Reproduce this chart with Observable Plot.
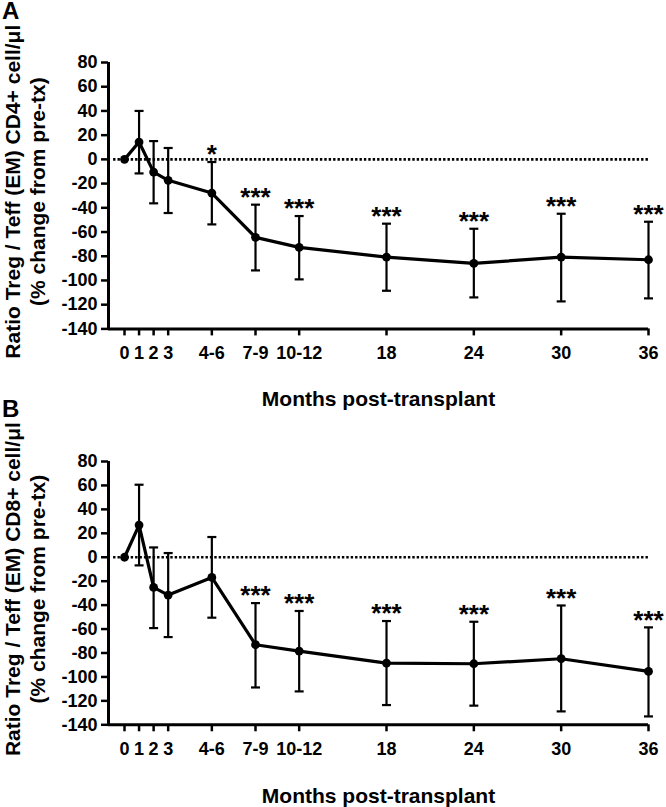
<!DOCTYPE html>
<html>
<head>
<meta charset="utf-8">
<script src="https://cdn.jsdelivr.net/npm/d3@7"></script>
<script src="https://cdn.jsdelivr.net/npm/@observablehq/plot@0.6"></script>
<style>
  body { margin: 0; background: #fff; }
  #wrap { position: relative; width: 666px; height: 807px; overflow: hidden; font-family: "Liberation Sans", Arial, sans-serif; }
  .panel { position: absolute; left: 0; }
  .letter { position: absolute; left: 2px; font-weight: bold; font-size: 24px; line-height: 1; }
</style>
</head>
<body>
<div id="wrap">
  <div class="panel" id="chartA" style="top:0"></div>
  <div class="panel" id="chartB" style="top:412px"></div>
  <div class="letter" style="top:-1px">A</div>
  <div class="letter" style="top:397px">B</div>
</div>
<script>
// months post-transplant (4-6 -> 6, 7-9 -> 9, 10-12 -> 12 on the axis)
const monthPos = [0, 1, 2, 3, 6, 9, 12, 18, 24, 30, 36];
const monthLabels = ["0", "1", "2", "3", "4-6", "7-9", "10-12", "18", "24", "30", "36"];
const yTicks = [80, 60, 40, 20, 0, -20, -40, -60, -80, -100, -120, -140];

// A: CD4+ ratio, % change from pre-tx (mean, upper and lower error)
const cd4Mean = [0, 14.3, -10.5, -17.3, -27.8, -64.4, -72.7, -80.7, -85.9, -80.7, -82.9];
const cd4Upper = [null, 40, 15.1, 9.4, -2.2, -37.4, -46.8, -53.1, -57.3, -44.9, -51.5];
const cd4Lower = [null, -11.6, -36.3, -44.3, -53.7, -91.7, -99.1, -108.5, -114, -117.3, -114.8];
const cd4Stars = ["", "", "", "", "*", "***", "***", "***", "***", "***", "***"];

// B: CD8+ ratio
const cd8Mean = [0, 26.9, -25.2, -31.6, -16.9, -73.1, -78.4, -88.4, -89, -84.8, -95.4];
const cd8Upper = [null, 60.6, 8.2, 3.5, 16.9, -38.3, -44.9, -53.3, -53.9, -40.3, -58.6];
const cd8Lower = [null, -6.8, -59.2, -66.7, -50.5, -108.8, -112.1, -123.5, -124, -128.8, -133];
const cd8Stars = ["", "", "", "", "", "***", "***", "***", "***", "***", "***"];

// flat cap for the error bars
const capSymbol = {
  draw(context, size) {
    const w = Math.sqrt(size / Math.PI);
    context.moveTo(-w, 0);
    context.lineTo(w, 0);
  }
};

function panel(mean, upper, lower, stars, cell, layout) {
  const rows = monthPos.map((m, i) => ({m, v: mean[i], hi: upper[i], lo: lower[i], star: stars[i]}));
  const bars = rows.filter(d => d.hi != null);
  return Plot.plot({
    width: 666,
    height: layout.height,
    marginLeft: 108,
    marginRight: 18,
    marginTop: layout.top,
    marginBottom: layout.bottom,
    style: {fontFamily: "'Liberation Sans', Arial, sans-serif", fontWeight: "bold", fontSize: "18px", color: "black", overflow: "visible"},
    x: {domain: [-1.1, 36]},
    y: {domain: [-140, 80]},
    marks: [
      Plot.ruleY([0], {x1: -0.75, x2: 36, strokeWidth: 2.6, strokeDasharray: "2.4,2"}),
      Plot.ruleX(bars, {x: "m", y1: "lo", y2: "hi", strokeWidth: 2.2}),
      Plot.dot(bars, {x: "m", y: "hi", symbol: capSymbol, r: 4.5, stroke: "black", strokeWidth: 2.2, fill: "none"}),
      Plot.dot(bars, {x: "m", y: "lo", symbol: capSymbol, r: 4.5, stroke: "black", strokeWidth: 2.2, fill: "none"}),
      Plot.line(rows, {x: "m", y: "v", strokeWidth: 3.2, stroke: "black"}),
      Plot.dot(rows, {x: "m", y: "v", r: 4.4, fill: "black"}),
      Plot.text(rows.filter(d => d.star), {x: "m", y: "hi", text: "star", dy: -7, fontSize: 26}),
      Plot.axisY({ticks: yTicks, tickFormat: d => String(d), tickSize: 7, tickPadding: 4, strokeWidth: 2.5, fontSize: 18, label: null}),
      Plot.axisX({ticks: monthPos, tickFormat: (d, i) => monthLabels[i], tickSize: 7, tickPadding: 10, strokeWidth: 2.5, fontSize: 18, label: null}),
      Plot.ruleX([-1.1], {strokeWidth: 3}),
      Plot.ruleY([-140], {strokeWidth: 3}),
      Plot.text([`Ratio Treg / Teff (EM) ${cell} cell/μl\n(% change from pre-tx)`], {
        frameAnchor: "left", textAnchor: "middle", lineAnchor: "middle", rotate: -90,
        dx: -84, dy: -4, lineHeight: 1.19, fontSize: 21
      }),
      Plot.text(["Months post-transplant"], {
        frameAnchor: "bottom", lineAnchor: "middle", dy: layout.xlab, fontSize: 21
      })
    ]
  });
}

document.getElementById("chartA").append(
  panel(cd4Mean, cd4Upper, cd4Lower, cd4Stars, "CD4+", {height: 412, top: 62, bottom: 83.6, xlab: 70.6})
);
document.getElementById("chartB").append(
  panel(cd8Mean, cd8Upper, cd8Lower, cd8Stars, "CD8+", {height: 395, top: 49, bottom: 82.7, xlab: 71.5})
);
</script>
</body>
</html>
